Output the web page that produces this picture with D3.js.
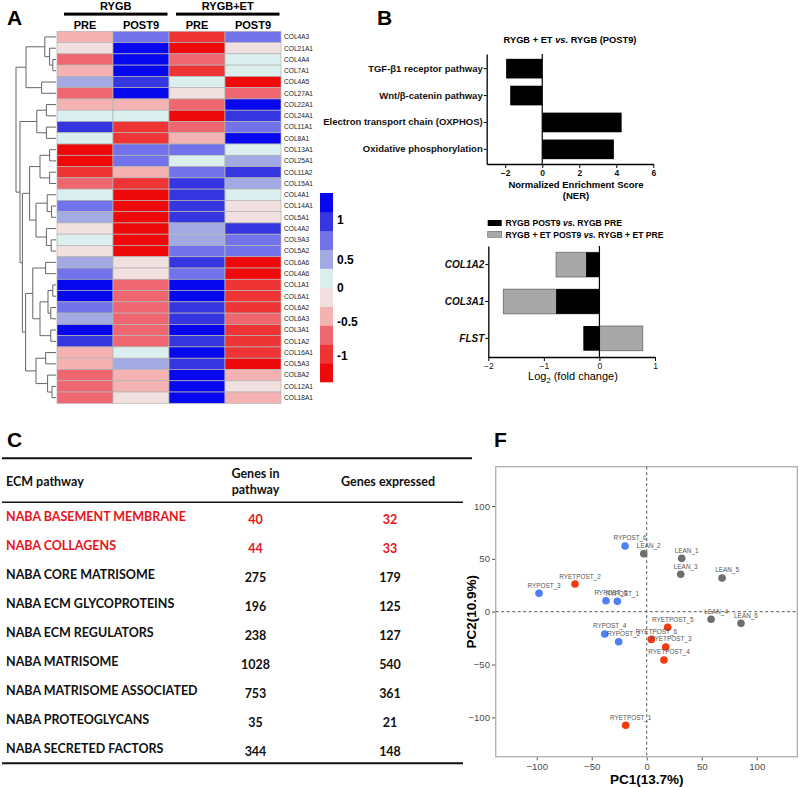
<!DOCTYPE html>
<html><head><meta charset="utf-8">
<script src="https://cdn.jsdelivr.net/npm/d3@7"></script>
<style>body{margin:0;background:#fff}svg{display:block}</style>
</head><body>
<svg id="c" width="799" height="787"></svg>
<script>
// ================= DATA =================
// Panel A heatmap
const genes = ["COL4A3","COL21A1","COL4A4","COL7A1","COL4A5","COL27A1","COL22A1","COL24A1","COL11A1","COL8A1",
 "COL13A1","COL25A1","COL11A2","COL15A1","COL4A1","COL14A1","COL5A1","COL4A2","COL9A3","COL5A2",
 "COL6A6","COL4A6","COL1A1","COL6A1","COL6A2","COL6A3","COL3A1","COL1A2","COL16A1","COL5A3",
 "COL8A2","COL12A1","COL18A1"];
const heatGroups = ["RYGB","RYGB+ET"];
const heatCols = ["PRE","POST9","PRE","POST9"];
const rygbPre   = [-0.4,-0.1,-0.65,-0.4,0.4,-0.65,-0.4,0.1,0.9,0.1,-1.2,-1.2,-0.9,-0.65,0.1,0.65,0.4,-0.1,0.1,-0.1,0.4,0.65,1.2,1.2,0.65,0.4,1.2,0.9,-0.4,-0.4,-0.65,-0.65,-0.65];
const rygbPost9 = [0.65,1.2,1.2,1.2,0.9,1.2,-0.4,0.1,-0.9,-0.9,0.65,0.65,-0.4,-0.9,-1.2,-1.2,-1.2,-1.2,-1.2,-1.2,-0.1,-0.1,-0.65,-0.65,-0.65,-0.65,-0.65,-0.65,0.1,0.4,-0.4,-0.4,-0.1];
const etPre     = [-0.9,-1.2,-0.65,-0.9,0.1,-0.1,-0.65,-1.2,-0.65,-0.4,0.65,0.1,0.65,0.9,0.9,0.9,0.9,0.4,0.4,0.65,0.9,0.65,1.2,1.2,0.9,0.9,1.2,0.9,1.2,0.9,1.2,1.2,1.2];
const etPost9   = [0.65,-0.1,0.1,0.1,-1.2,-0.65,1.2,0.9,0.65,1.2,0.1,0.4,0.9,0.4,0.1,-0.1,-0.1,0.9,0.65,0.65,-1.2,-1.2,-0.9,-0.9,-0.9,-0.65,-0.9,-0.9,-0.9,-1.2,-0.4,-0.1,-0.4];
const heatColors = ["#ee0a0a","#ee3434","#ee6670","#f5b2b2","#f0e0e0","#dcefef","#a3a9e2","#7272ea","#3636e0","#0808ee"];
const legendTicks = [1,0.5,0,-0.5,-1];
// dendrogram: [height, left, right], leaves = row index
const dendroTree = [10,
  [7.5, [2.8, 0, [1.6, 1, [0.8, 2, 3]]], [3.6, 4, 5]],
  [9.0,
    [4.8, [2.4, 6, 7], [2.4, 8, 9]],
    [8.4,
      [6.6, [4.0, [1.6, 10, 11], [1.6, 12, 13]], [5.0, [2.2, 14, [1.1, 15, 16]], [2.4, 17, [1.2, 18, 19]]]],
      [7.6,
        [5.8, [2.6, 20, 21], [4.0, [2.0, [0.8, 22, 23], [1.3, 24, 25]], [1.3, 26, 27]]],
        [5.0, [2.6, 28, 29], [2.1, 30, [1.0, 31, 32]]]]]]];

// Panel B (top)
const nesPathways = ["TGF-\u03b21 receptor pathway","Wnt/\u03b2-catenin pathway","Electron transport chain (OXPHOS)","Oxidative phosphorylation"];
const nesValues = [-1.95,-1.73,4.29,3.87];
const nesTicks = [-2,0,2,4,6];
// Panel B (bottom)
const fcGenes = ["COL1A2","COL3A1","FLST"];
const fcRYGB = [-0.24,-0.78,-0.29];
const fcRYGBET = [-0.78,-1.73,0.78];
const fcTicks = [-2,-1,0,1];
const fcLegend = [["RYGB POST9 ","vs."," RYGB PRE"],["RYGB + ET POST9 ","vs."," RYGB + ET PRE"]];

// Panel C table
const tPathways = ["NABA BASEMENT MEMBRANE","NABA COLLAGENS","NABA CORE MATRISOME","NABA ECM GLYCOPROTEINS","NABA ECM REGULATORS","NABA MATRISOME","NABA MATRISOME ASSOCIATED","NABA PROTEOGLYCANS","NABA SECRETED FACTORS"];
const tGenesInPathway = [40,44,275,196,238,1028,753,35,344];
const tGenesExpressed = [32,33,179,125,127,540,361,21,148];
const tHighlight = [true,true,false,false,false,false,false,false,false];

// Panel F PCA
const pcaLabels = ["RYPOST_6","LEAN_2","LEAN_1","LEAN_3","LEAN_5","RYETPOST_2","RYPOST_3","RYPOST_5","RYPOST_1","LEAN_4","LEAN_6","RYETPOST_5","RYPOST_4","RYPOST_2","RYETPOST_6","RYETPOST_3","RYETPOST_4","RYETPOST_1"];
const pcaPC1 = [-19.7,-2.7,31.8,30.9,68.5,-65.2,-97.9,-37.0,-26.7,58.5,85.7,19.1,-38.2,-25.5,4.2,17.3,15.7,-19.1];
const pcaPC2 = [62.2,54.9,50.5,35.4,31.9,26.2,17.4,10.4,9.8,-7.2,-11.0,-14.8,-21.1,-28.4,-26.2,-33.4,-45.7,-107.5];
const pcaGroup = ["RY","LEAN","LEAN","LEAN","LEAN","RYET","RY","RY","RY","LEAN","LEAN","RYET","RY","RY","RYET","RYET","RYET","RYET"];
const pcaTicks = [-100,-50,0,50,100];

// ================= DRAW =================
const svg = d3.select("#c");
const ARIAL = "'Liberation Sans', Arial, sans-serif";
const NARROW = "'Liberation Sans Narrow','Arial Narrow','Liberation Sans',sans-serif";
function panelLabel(t,x,y){ svg.append("text").attr("x",x).attr("y",y).text(t)
  .attr("font-family",ARIAL).attr("font-weight","bold").attr("font-size",21); }

// ---------- Panel A ----------
panelLabel("A",7,25);
const A = svg.append("g");
const hx = d3.scaleBand().domain(d3.range(4)).range([57,281]);
const hy = d3.scaleBand().domain(d3.range(genes.length)).range([31.3,403.3]);
const hcol = d3.scaleQuantize().domain([-1.25,1.25]).range(heatColors);
const cols = [rygbPre,rygbPost9,etPre,etPost9];
cols.forEach((vals,ci)=>{
  A.selectAll(null).data(vals).join("rect")
   .attr("x",hx(ci)).attr("y",(d,i)=>hy(i)).attr("width",hx.bandwidth()).attr("height",hy.bandwidth())
   .attr("fill",d=>hcol(d)).attr("stroke","#b4b4b4").attr("stroke-width",0.7);
});
A.selectAll(null).data(genes).join("text")
 .attr("x",284).attr("y",(d,i)=>hy(i)+hy.bandwidth()/2+2.3).text(d=>d)
 .attr("font-family",ARIAL).attr("font-size",6.6).attr("fill","#222");
A.selectAll(null).data(heatCols).join("text")
 .attr("x",(d,i)=>hx(i)+hx.bandwidth()/2).attr("y",28.5).attr("text-anchor","middle").text(d=>d)
 .attr("font-family",ARIAL).attr("font-weight","bold").attr("font-size",11);
heatGroups.forEach((g,gi)=>{
  const x0 = hx(gi*2)+7, x1 = hx(gi*2+1)+hx.bandwidth()-1.5;
  A.append("rect").attr("x",x0).attr("y",12.6).attr("width",x1-x0).attr("height",3).attr("fill","#000");
  A.append("text").attr("x",(x0+x1)/2).attr("y",10).attr("text-anchor","middle").text(g)
   .attr("font-family",ARIAL).attr("font-weight","bold").attr("font-size",11);
});
// dendrogram
const dx = d3.scaleLinear().domain([0,10]).range([56,16]);
function build(n){ return typeof n==="number" ? {leaf:n} : {h:n[0],children:[build(n[1]),build(n[2])]}; }
const droot = d3.hierarchy(build(dendroTree));
droot.eachAfter(d=>{
  if(!d.children){ d.py = hy(d.data.leaf)+hy.bandwidth()/2; d.px = dx(0); }
  else { d.py = (d.children[0].py+d.children[1].py)/2; d.px = dx(d.data.h); }
});
const dg = A.append("g").attr("stroke","#666").attr("stroke-width",1).attr("fill","none");
droot.each(d=>{
  if(d.children){
    dg.append("line").attr("x1",d.px).attr("x2",d.px).attr("y1",d.children[0].py).attr("y2",d.children[1].py);
    d.children.forEach(c=>dg.append("line").attr("x1",d.px).attr("x2",c.px).attr("y1",c.py).attr("y2",c.py));
  }
});
// legend
const ly = d3.scaleBand().domain(d3.range(heatColors.length)).range([382,193]);
A.selectAll(null).data(heatColors).join("rect")
 .attr("x",320).attr("width",13).attr("y",(d,i)=>ly(i)).attr("height",ly.bandwidth()+0.3).attr("fill",d=>d);
const lty = d3.scaleLinear().domain([1,-1]).range([224,360]);
A.selectAll(null).data(legendTicks).join("text")
 .attr("x",337).attr("y",d=>lty(d)+ (d===0.5?6:0)).text(d=>d)
 .attr("font-family",ARIAL).attr("font-weight","bold").attr("font-size",12);

// ---------- Panel B top ----------
panelLabel("B",377,25);
const B = svg.append("g").attr("font-family",ARIAL);
B.append("text").attr("x",570).attr("y",42.5).attr("text-anchor","middle").attr("font-weight","bold").attr("font-size",9.3)
 .call(t=>{ t.append("tspan").text("RYGB +  ET "); t.append("tspan").attr("font-style","italic").text("vs."); t.append("tspan").text(" RYGB (POST9)"); });
const bx = d3.scaleLinear().domain([-3,6]).range([486.7,653.3]);
const by = d3.scaleBand().domain(nesPathways).range([54,164]).paddingInner(0.27).paddingOuter(0.18);
B.selectAll(null).data(nesValues).join("rect")
 .attr("x",d=>bx(Math.min(0,d))).attr("width",d=>Math.abs(bx(d)-bx(0)))
 .attr("y",(d,i)=>by(nesPathways[i])).attr("height",by.bandwidth()).attr("fill","#000");
B.append("line").attr("x1",bx(0)).attr("x2",bx(0)).attr("y1",54).attr("y2",164).attr("stroke","#000").attr("stroke-width",1.2);
const bxa = B.append("g").attr("transform","translate(0,164)")
 .call(d3.axisBottom(bx).tickValues(nesTicks).tickSize(4).tickSizeOuter(0).tickPadding(2));
const bya = B.append("g").attr("transform","translate(486.7,0)")
 .call(d3.axisLeft(by).tickSize(3).tickSizeOuter(0).tickPadding(1));
[bxa,bya].forEach(g=>{ g.select(".domain").attr("stroke-width",1.3);
  g.selectAll("text").attr("font-family",ARIAL).attr("font-weight","bold").attr("font-size",9.5).attr("fill","#111"); });
bxa.selectAll("text").attr("font-size",8.5);
B.append("text").attr("x",576).attr("y",188).attr("text-anchor","middle").attr("font-weight","bold").attr("font-size",9.5).text("Normalized Enrichment Score");
B.append("text").attr("x",576).attr("y",199).attr("text-anchor","middle").attr("font-weight","bold").attr("font-size",9.5).text("(NER)");

// ---------- Panel B bottom ----------
const fillsB = ["#000","#a8a8a8"];
fcLegend.forEach((parts,i)=>{
  B.append("rect").attr("x",487.7).attr("y",220+i*11.3).attr("width",14).attr("height",6).attr("fill",fillsB[i])
   .attr("stroke",i?"#666":"none").attr("stroke-width",0.6);
  B.append("text").attr("x",505.5).attr("y",226.3+i*11.3).attr("font-weight","bold").attr("font-size",8.6)
   .call(t=>{ t.append("tspan").text(parts[0]); t.append("tspan").attr("font-style","italic").text(parts[1]); t.append("tspan").text(parts[2]); });
});
const cx = d3.scaleLinear().domain([-2,1]).range([488.3,655]);
const cy = d3.scaleBand().domain(fcGenes).range([246,357]).paddingInner(0.33).paddingOuter(0.17);
B.selectAll(null).data(fcRYGBET).join("rect")
 .attr("x",d=>cx(Math.min(0,d))).attr("width",d=>Math.abs(cx(d)-cx(0)))
 .attr("y",(d,i)=>cy(fcGenes[i])).attr("height",cy.bandwidth()).attr("fill","#a8a8a8").attr("stroke","#666").attr("stroke-width",0.8);
B.selectAll(null).data(fcRYGB).join("rect")
 .attr("x",d=>cx(Math.min(0,d))).attr("width",d=>Math.abs(cx(d)-cx(0)))
 .attr("y",(d,i)=>cy(fcGenes[i])).attr("height",cy.bandwidth()).attr("fill","#000");
B.append("line").attr("x1",cx(0)).attr("x2",cx(0)).attr("y1",246).attr("y2",357).attr("stroke","#000").attr("stroke-width",1.2);
const cxa = B.append("g").attr("transform","translate(0,357)")
 .call(d3.axisBottom(cx).tickValues(fcTicks).tickFormat(d3.format("d")).tickSize(4).tickSizeOuter(0).tickPadding(2));
const cya = B.append("g").attr("transform","translate(488.3,0)")
 .call(d3.axisLeft(cy).tickSize(3).tickSizeOuter(0).tickPadding(1));
[cxa,cya].forEach(g=>{ g.select(".domain").attr("stroke-width",1.3);
  g.selectAll("text").attr("font-family",ARIAL).attr("font-weight","bold").attr("font-size",8.5).attr("fill","#111"); });
cya.selectAll("text").attr("font-style","italic").attr("font-size",10);
cxa.selectAll("text").attr("font-weight","normal").attr("font-size",8.5);
B.append("text").attr("x",573).attr("y",380).attr("text-anchor","middle").attr("font-size",11)
 .call(t=>{ t.append("tspan").text("Log"); t.append("tspan").attr("font-size",7.5).attr("dy",3).text("2"); t.append("tspan").attr("dy",-3).text(" (fold change)"); });

// ---------- Panel C ----------
panelLabel("C",7,447);
const C = svg.append("g").attr("font-family","Lato, 'Open Sans', sans-serif").attr("font-weight","bold").attr("font-size",12.5).attr("fill","#111");
C.append("line").attr("x1",2).attr("x2",472).attr("y1",458.3).attr("y2",458.3).attr("stroke","#111").attr("stroke-width",2);
C.append("line").attr("x1",2).attr("x2",463).attr("y1",502.3).attr("y2",502.3).attr("stroke","#111").attr("stroke-width",1.6);
C.append("line").attr("x1",2).attr("x2",463).attr("y1",763.3).attr("y2",763.3).attr("stroke","#111").attr("stroke-width",2);
C.append("text").attr("x",6).attr("y",486).text("ECM pathway");
C.append("text").attr("x",255.5).attr("y",477.5).attr("text-anchor","middle").text("Genes in");
C.append("text").attr("x",255.5).attr("y",493.5).attr("text-anchor","middle").text("pathway");
C.append("text").attr("x",388).attr("y",486).attr("text-anchor","middle").text("Genes expressed");
const ty = d3.scalePoint().domain(d3.range(tPathways.length)).range([516.7,749]);
const rowCol = i=> tHighlight[i] ? "#e8141b" : "#111";
C.selectAll(null).data(tPathways).join("text").attr("x",6).attr("y",(d,i)=>ty(i)+4.3).text(d=>d).attr("fill",(d,i)=>rowCol(i));
C.selectAll(null).data(tGenesInPathway).join("text").attr("x",255.5).attr("y",(d,i)=>ty(i)+4.3+3).attr("text-anchor","middle").text(d=>d).attr("fill",(d,i)=>rowCol(i));
C.selectAll(null).data(tGenesExpressed).join("text").attr("x",390).attr("y",(d,i)=>ty(i)+4.3+3).attr("text-anchor","middle").text(d=>d).attr("fill",(d,i)=>rowCol(i));

// ---------- Panel F ----------
panelLabel("F",494,447);
const F = svg.append("g");
const fx = d3.scaleLinear().domain([-137.3,136.9]).range([495.7,797.3]);
const fy = d3.scaleLinear().domain([-137.2,137.2]).range([756.7,466.7]);
F.append("rect").attr("x",495.7).attr("y",466.7).attr("width",797.3-495.7).attr("height",756.7-466.7)
 .attr("fill","#fff").attr("stroke","#b3b3b3").attr("stroke-width",1.4);
F.append("line").attr("x1",fx(0)).attr("x2",fx(0)).attr("y1",466.7).attr("y2",756.7).attr("stroke","#444").attr("stroke-width",0.9).attr("stroke-dasharray","3,2.5");
F.append("line").attr("x1",495.7).attr("x2",797.3).attr("y1",fy(0)).attr("y2",fy(0)).attr("stroke","#444").attr("stroke-width",0.9).attr("stroke-dasharray","3,2.5");
const fxa = F.append("g").attr("transform","translate(0,757.4)").call(d3.axisBottom(fx).tickValues(pcaTicks).tickSize(3).tickPadding(3));
const fya = F.append("g").attr("transform","translate(495,0)").call(d3.axisLeft(fy).tickValues(pcaTicks).tickSize(3).tickPadding(2));
[fxa,fya].forEach(g=>{ g.select(".domain").remove(); g.selectAll("line").attr("stroke","#555");
  g.selectAll("text").attr("font-family",NARROW).attr("font-size",9.6).attr("fill","#4d4d4d"); });
F.append("text").attr("x",646.7).attr("y",783.5).attr("text-anchor","middle").attr("font-family",NARROW).attr("font-weight","bold").attr("font-size",13.5).text("PC1(13.7%)");
F.append("text").attr("transform","translate(476,611.7) rotate(-90)").attr("text-anchor","middle").attr("font-family",NARROW).attr("font-weight","bold").attr("font-size",13.5).text("PC2(10.9%)");
const gcol = {RY:"#4d7ff5", RYET:"#f23a0c", LEAN:"#6e6e6e"};
F.selectAll(null).data(pcaLabels).join("circle")
 .attr("cx",(d,i)=>fx(pcaPC1[i])).attr("cy",(d,i)=>fy(pcaPC2[i])).attr("r",3.8).attr("fill",(d,i)=>gcol[pcaGroup[i]]);
F.selectAll(null).data(pcaLabels).join("text")
 .attr("x",(d,i)=>fx(pcaPC1[i])+5).attr("y",(d,i)=>fy(pcaPC2[i])-5.5).attr("text-anchor","middle").text(d=>d)
 .attr("font-family",NARROW).attr("font-size",6.4).attr("fill","#555");
</script>
</body></html>
